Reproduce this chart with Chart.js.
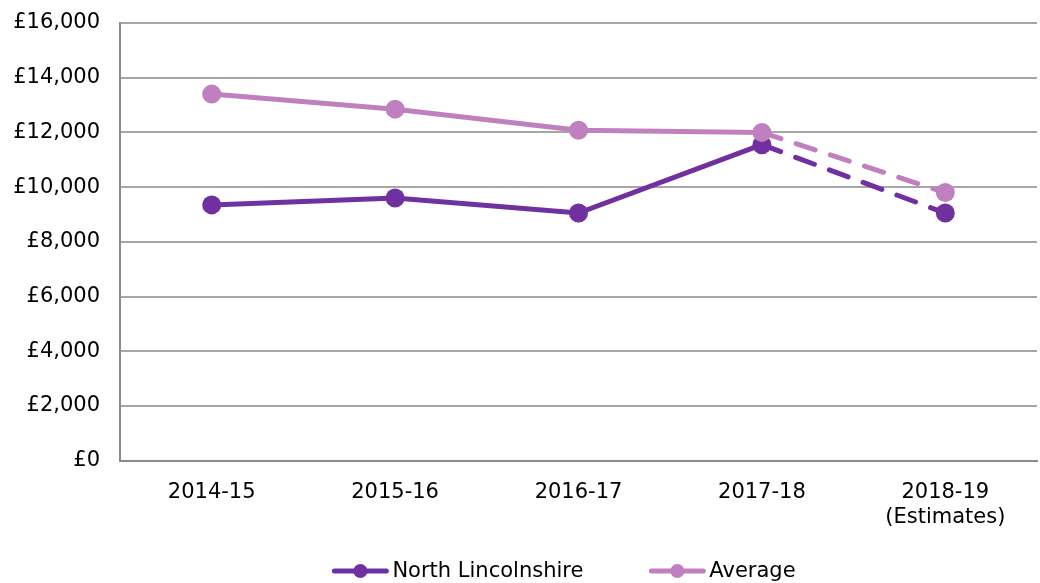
<!DOCTYPE html>
<html>
<head>
<meta charset="utf-8">
<script src="https://cdn.jsdelivr.net/npm/chart.js@4/dist/chart.umd.min.js"></script>
<style>
  html, body { margin: 0; padding: 0; background: #fff; }
  #wrap { width: 1040px; height: 583px; }
</style>
</head>
<body>
<div id="wrap"><canvas id="lineChart" width="1040" height="583"></canvas></div>
<script>
// Chart data
const categories = ["2014-15", "2015-16", "2016-17", "2017-18", ["2018-19", "(Estimates)"]];
const northLincolnshire = [9350, 9600, 9050, 11550, 9050];
const average = [13400, 12850, 12080, 12000, 9800];
const yTicks = [0, 2000, 4000, 6000, 8000, 10000, 12000, 14000, 16000];
const estimateIndex = 4; // last point is an estimate -> dashed segment

const FONT = "'DejaVu Sans', Verdana, sans-serif";
const NL_COLOR = "#7030a0";
const AVG_COLOR = "#c080c0";

function formatPounds(v) {
  return "£" + Number(v).toLocaleString("en-GB");
}

// Line + dot legend drawn under the plot
const lineLegend = {
  id: "lineLegend",
  afterDraw(chart) {
    const ctx = chart.ctx;
    const items = chart.data.datasets;
    const lineW = 56, gap = 4, spacing = 66;
    ctx.save();
    ctx.font = "21px " + FONT;
    const widths = items.map((d) => lineW + gap + ctx.measureText(d.label).width);
    const total = widths.reduce((a, b) => a + b, 0) + spacing * (items.length - 1);
    let x = (chart.width - total) / 2 + 44;
    const y = 571;
    items.forEach((d, i) => {
      ctx.strokeStyle = d.borderColor;
      ctx.lineWidth = 5;
      ctx.lineCap = "round";
      ctx.beginPath();
      ctx.moveTo(x + 2, y);
      ctx.lineTo(x + lineW - 2, y);
      ctx.stroke();
      ctx.fillStyle = d.borderColor;
      ctx.beginPath();
      ctx.arc(x + lineW / 2, y, 7, 0, Math.PI * 2);
      ctx.fill();
      ctx.fillStyle = "#000";
      ctx.textBaseline = "middle";
      ctx.textAlign = "left";
      ctx.fillText(d.label, x + lineW + gap, y + 1);
      x += widths[i] + spacing;
    });
    ctx.restore();
  },
};

const dashLast = (ctx) => (ctx.p1DataIndex === estimateIndex ? [20, 16] : undefined);

new Chart(document.getElementById("lineChart").getContext("2d"), {
  type: "line",
  data: {
    labels: categories,
    datasets: [
      {
        label: "North Lincolnshire",
        data: northLincolnshire,
        borderColor: NL_COLOR,
        backgroundColor: NL_COLOR,
        borderWidth: 5,
        borderCapStyle: "round",
        pointRadius: 9.5,
        pointBorderWidth: 0,
        pointHoverRadius: 9.5,
        tension: 0,
        order: 2,
        segment: { borderDash: dashLast },
      },
      {
        label: "Average",
        data: average,
        borderColor: AVG_COLOR,
        backgroundColor: AVG_COLOR,
        borderWidth: 5,
        borderCapStyle: "round",
        pointRadius: 9.5,
        pointBorderWidth: 0,
        pointHoverRadius: 9.5,
        tension: 0,
        order: 1,
        segment: { borderDash: dashLast },
      },
    ],
  },
  options: {
    responsive: false,
    animation: false,
    layout: { autoPadding: false, padding: { left: 13, right: 3, top: 0, bottom: 34 } },
    plugins: {
      legend: { display: false },
      tooltip: { enabled: false },
    },
    scales: {
      x: {
        offset: true,
        grid: { display: false, drawTicks: false },
        border: { color: "#8a8a8a", width: 2 },
        ticks: {
          color: "#000",
          font: { family: FONT, size: 21 },
          padding: 19,
          maxRotation: 0,
          autoSkip: false,
        },
      },
      y: {
        min: 0,
        max: 16000,
        afterBuildTicks: (scale) => {
          scale.ticks = yTicks.map((v) => ({ value: v }));
        },
        afterFit: (scale) => {
          scale.width = 107;
          scale.paddingTop = 23;
          scale.paddingBottom = 0;
        },
        grid: { color: "#a6a6a6", lineWidth: 2, drawTicks: false },
        border: { color: "#8a8a8a", width: 2 },
        ticks: {
          color: "#000",
          font: { family: FONT, size: 21 },
          padding: 20,
          callback: (v) => formatPounds(v),
        },
      },
    },
  },
  plugins: [lineLegend],
});
</script>
</body>
</html>
